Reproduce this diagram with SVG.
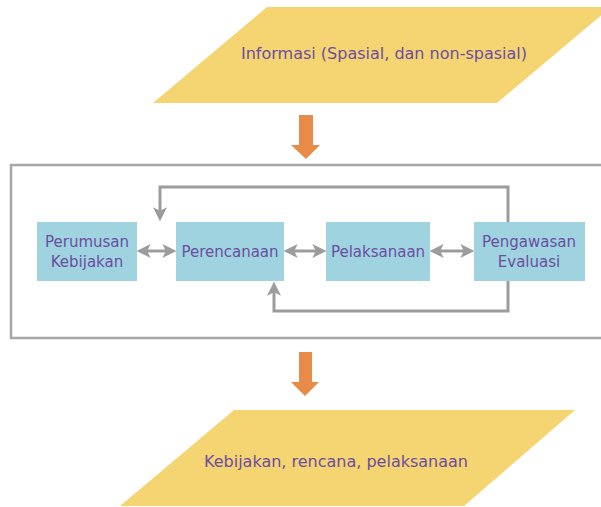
<svg xmlns="http://www.w3.org/2000/svg" width="601" height="507" viewBox="0 0 601 507">
<style>
.para{fill:#f5d472}
.box{fill:#9fd3e0}
.t{font-family:"DejaVu Sans",Verdana,sans-serif;font-size:15px;fill:#6b4ea0;text-anchor:middle}
.tl{font-size:16px}
.conn{fill:none;stroke:#9c9c9c;stroke-width:3}
.big{fill:none;stroke:#a6a6a6;stroke-width:2.5}
.flow{fill:#e98b48}
</style>
<defs>
<marker id="ah" viewBox="0 0 12 12" refX="4" refY="6" markerWidth="14" markerHeight="14" markerUnits="userSpaceOnUse" orient="auto-start-reverse">
<path d="M0,0 L12,6 L0,12 L3,6 z" fill="#9c9c9c"/>
</marker>
</defs>
<g id="frame"><rect class="big" x="11" y="165" width="600" height="173"/></g>
<g id="input">
<polygon class="para" points="267,7 611,7 497,103 153,103"/>
<text class="t tl" x="384" y="59">Informasi (Spasial, dan non-spasial)</text>
</g>
<g id="output">
<polygon class="para" points="234,410 575,410 464,506 120,506"/>
<text class="t tl" x="336" y="467">Kebijakan, rencana, pelaksanaan</text>
</g>
<g id="flow-arrows">
<polygon class="flow" points="299,115 313,115 313,145 320,145 306,159 291,145 299,145"/>
<polygon class="flow" points="299,352 312,352 312,382 319,382 305,396 291,382 299,382"/>
</g>
<g id="perumusan">
<rect class="box" x="37" y="222" width="100" height="59"/>
<text class="t" x="87" y="247">Perumusan</text>
<text class="t" x="87" y="267">Kebijakan</text>
</g>
<g id="perencanaan">
<rect class="box" x="176" y="222" width="108" height="59"/>
<text class="t" x="230" y="257">Perencanaan</text>
</g>
<g id="pelaksanaan">
<rect class="box" x="326" y="222" width="104" height="59"/>
<text class="t" x="378" y="257">Pelaksanaan</text>
</g>
<g id="pengawasan">
<rect class="box" x="474" y="222" width="111" height="59"/>
<text class="t" x="529" y="247">Pengawasan</text>
<text class="t" x="529" y="267">Evaluasi</text>
</g>
<g id="connectors">
<line class="conn" x1="146" y1="251" x2="167" y2="251" marker-start="url(#ah)" marker-end="url(#ah)"/>
<line class="conn" x1="293" y1="251" x2="317" y2="251" marker-start="url(#ah)" marker-end="url(#ah)"/>
<line class="conn" x1="439" y1="251" x2="465" y2="251" marker-start="url(#ah)" marker-end="url(#ah)"/>
<path class="conn" d="M508,222 V187 H160 V212" marker-end="url(#ah)"/>
<path class="conn" d="M508,281 V311 H274 V291" marker-end="url(#ah)"/>
</g>
</svg>
